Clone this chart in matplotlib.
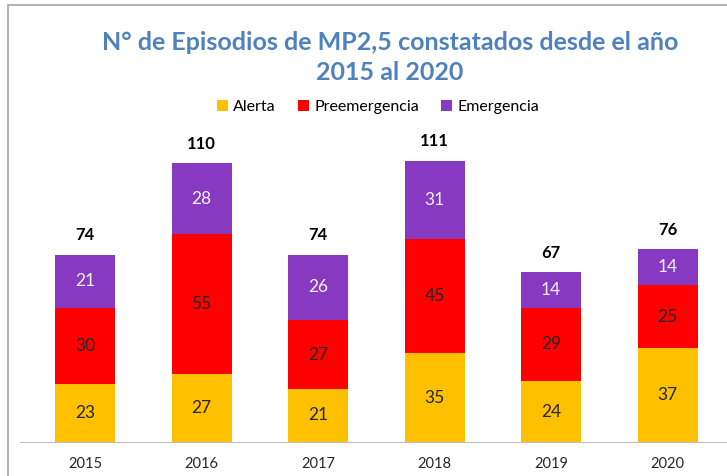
import numpy as np
import matplotlib
matplotlib.use("Agg")
import matplotlib.pyplot as plt
from matplotlib.patches import Rectangle

years = ["2015", "2016", "2017", "2018", "2019", "2020"]
alerta = [23, 27, 21, 35, 24, 37]
preemergencia = [30, 55, 27, 45, 29, 25]
emergencia = [21, 28, 26, 31, 14, 14]
totals = [74, 110, 74, 111, 67, 76]

COLORS = {"Alerta": "#FFC000", "Preemergencia": "#FF0000", "Emergencia": "#8739C2"}
TEXT_COLORS = {"Alerta": "#262626", "Preemergencia": "#262626", "Emergencia": "#F2F2F2"}

plt.rcParams["font.family"] = ["Lato", "DejaVu Sans"]

W, H = 727, 476
fig = plt.figure(figsize=(W / 100, H / 100), dpi=100)

# axes in pixel coordinates: left 20, bottom line at y=442 from top
ax = fig.add_axes([20 / W, 34 / H, (W - 20) / W, 304 / H])

x = np.arange(len(years))
width = 0.515
bottom = np.zeros(len(years))
for name, vals in [("Alerta", alerta), ("Preemergencia", preemergencia),
                   ("Emergencia", emergencia)]:
    ax.bar(x, vals, width, bottom=bottom, color=COLORS[name], label=name)
    for xi, b, v in zip(x, bottom, vals):
        ax.text(xi, b + v / 2, str(v), ha="center", va="center",
                fontsize=12.5, color=TEXT_COLORS[name])
    bottom += np.array(vals)

for xi, b, t in zip(x, bottom, totals):
    ax.text(xi, b + 4.5, str(t), ha="center", va="bottom", fontsize=12,
            fontweight="bold", color="black")

ax.set_xlim(-0.558, 5.51)
ax.set_ylim(0, 120)
ax.set_xticks(x)
ax.set_xticklabels(years, fontsize=10.5, color="#262626")
ax.tick_params(axis="x", length=0, pad=11)
ax.set_yticks([])
for s in ["top", "right", "left"]:
    ax.spines[s].set_visible(False)
ax.spines["bottom"].set_color("#BFBFBF")

fig.text(390 / W, 1 - 42 / H, "N° de Episodios de MP2,5 constatados desde el año",
         ha="center", va="center", fontsize=18, fontweight="bold", color="#4F81BD")
fig.text(390 / W, 1 - 72 / H, "2015 al 2020",
         ha="center", va="center", fontsize=18, fontweight="bold", color="#4F81BD")

fig.legend(loc="center", bbox_to_anchor=(378 / W, 1 - 107 / H), ncol=3,
           frameon=False, fontsize=11.5, handlelength=0.7, handleheight=0.7,
           handletextpad=0.3, columnspacing=1.4)

# outer chart frame (cut off on the right and bottom)
fig.patches.append(Rectangle((8 / W, -0.1), 1.2, 1 - 5 / H + 0.1,
                             transform=fig.transFigure, fill=False,
                             edgecolor="#A6A6A6", linewidth=1.2))

fig.savefig("out.png", dpi=100)
